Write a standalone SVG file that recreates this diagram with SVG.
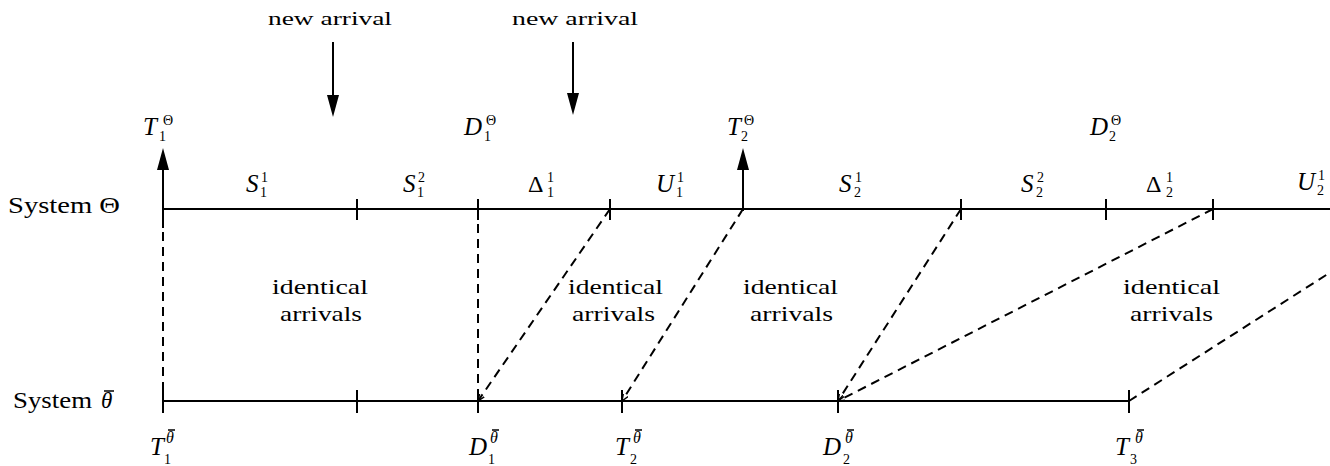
<svg xmlns="http://www.w3.org/2000/svg" width="1330" height="466" viewBox="0 0 1330 466">
<defs>
<style>
text{font-family:"Liberation Serif","Times New Roman",serif;fill:#000}
.lbl{font-size:18px}
.sys{font-size:23px}
.id{font-size:22px}
.m{font-size:25px;font-style:italic}
.up{font-size:24px}
.s{font-size:14px}
.so{font-size:16px;font-style:italic}
.bar{stroke:#000;stroke-width:1.5}
.axis{stroke:#000;stroke-width:2;fill:none}
.dash{stroke:#000;stroke-width:2;fill:none;stroke-dasharray:9 6}
.solid{stroke:#000;stroke-width:2;fill:none}
</style>
<marker id="sm" viewBox="0 0 10 10" refX="10" refY="5" markerWidth="7" markerHeight="7" orient="auto" markerUnits="userSpaceOnUse">
<path d="M0,1 L10,5 L0,9" fill="none" stroke="#000" stroke-width="2"/>
</marker>
</defs>
<rect width="1330" height="466" fill="#fff"/>

<g id="system-theta">
<text class="sys" x="8" y="213" textLength="112" lengthAdjust="spacingAndGlyphs">System Θ</text>
<line class="axis" x1="163" y1="209" x2="1330" y2="209"/>
<path class="axis" d="M357,199V220M478,199V220M610,199V220M961,199V220M1106,199V220M1213,199V220"/>
</g>

<g id="system-thetabar">
<text class="sys" x="13" y="408" textLength="79" lengthAdjust="spacingAndGlyphs">System</text>
<text class="sys" x="101" y="408" font-style="italic">θ</text>
<line class="bar" x1="104" y1="391" x2="114" y2="391"/>
<line class="axis" x1="163" y1="401" x2="1129" y2="401"/>
<path class="axis" d="M163,390V413M357,390V413M478,390V413M622,390V413M838,390V413M1129,390V413"/>
</g>

<g id="arrival-1">
<text class="lbl" x="268" y="25" textLength="124" lengthAdjust="spacingAndGlyphs">new arrival</text>
</g>
<g id="arrival-2">
<text class="lbl" x="512" y="25" textLength="126" lengthAdjust="spacingAndGlyphs">new arrival</text>
</g>

<g id="top-labels">
<text class="m" x="143" y="135">T</text><text class="s" x="163" y="125">Θ</text><text class="s" x="159" y="141">1</text>
<text class="m" x="464" y="135">D</text><text class="s" x="486" y="125">Θ</text><text class="s" x="484" y="141">1</text>
<text class="m" x="727" y="135">T</text><text class="s" x="744" y="125">Θ</text><text class="s" x="741" y="141">2</text>
<text class="m" x="1090" y="135">D</text><text class="s" x="1111" y="125">Θ</text><text class="s" x="1109" y="141">2</text>
</g>

<g id="interval-labels">
<text class="m" x="246" y="192">S</text><text class="s" x="261" y="182">1</text><text class="s" x="260" y="197">1</text>
<text class="m" x="403" y="192">S</text><text class="s" x="418" y="182">2</text><text class="s" x="417" y="197">1</text>
<text class="up" x="528" y="192">Δ</text><text class="s" x="547" y="182">1</text><text class="s" x="547" y="197">1</text>
<text class="m" x="656" y="192">U</text><text class="s" x="677" y="182">1</text><text class="s" x="676" y="197">1</text>
<text class="m" x="839" y="192">S</text><text class="s" x="855" y="182">1</text><text class="s" x="854" y="197">2</text>
<text class="m" x="1021" y="192">S</text><text class="s" x="1037" y="182">2</text><text class="s" x="1036" y="197">2</text>
<text class="up" x="1146" y="192">Δ</text><text class="s" x="1166" y="182">1</text><text class="s" x="1166" y="197">2</text>
<text class="m" x="1297" y="190">U</text><text class="s" x="1318" y="180">1</text><text class="s" x="1317" y="195">2</text>
</g>

<g id="bottom-labels">
<text class="m" x="150" y="455">T</text><text class="so" x="166" y="443">θ</text><line class="bar" x1="168" y1="430" x2="175" y2="430"/><text class="s" x="164" y="464">1</text>
<text class="m" x="469" y="455">D</text><text class="so" x="490" y="443">θ</text><line class="bar" x1="492" y1="430" x2="499" y2="430"/><text class="s" x="488" y="464">1</text>
<text class="m" x="615" y="455">T</text><text class="so" x="633" y="443">θ</text><line class="bar" x1="635" y1="430" x2="642" y2="430"/><text class="s" x="630" y="464">2</text>
<text class="m" x="823" y="455">D</text><text class="so" x="845" y="443">θ</text><line class="bar" x1="847" y1="430" x2="854" y2="430"/><text class="s" x="843" y="464">2</text>
<text class="m" x="1115" y="455">T</text><text class="so" x="1135" y="443">θ</text><line class="bar" x1="1137" y1="430" x2="1144" y2="430"/><text class="s" x="1130" y="464">3</text>
</g>

<g id="identical-1">
<text class="id" x="272" y="294" textLength="96" lengthAdjust="spacingAndGlyphs">identical</text>
<text class="id" x="280" y="321" textLength="82" lengthAdjust="spacingAndGlyphs">arrivals</text>
</g>
<g id="identical-2">
<text class="id" x="568" y="294" textLength="95" lengthAdjust="spacingAndGlyphs">identical</text>
<text class="id" x="572" y="321" textLength="83" lengthAdjust="spacingAndGlyphs">arrivals</text>
</g>
<g id="identical-3">
<text class="id" x="743" y="294" textLength="95" lengthAdjust="spacingAndGlyphs">identical</text>
<text class="id" x="750" y="321" textLength="83" lengthAdjust="spacingAndGlyphs">arrivals</text>
</g>
<g id="identical-4">
<text class="id" x="1123" y="294" textLength="97" lengthAdjust="spacingAndGlyphs">identical</text>
<text class="id" x="1130" y="321" textLength="83" lengthAdjust="spacingAndGlyphs">arrivals</text>
</g>

<g id="connectors">
<line class="solid" x1="333" y1="42" x2="333" y2="96"/>
<polygon points="327,95 339,95 333,117"/>
<line class="solid" x1="573" y1="42" x2="573" y2="94"/>
<polygon points="567,93 579,93 573,115"/>
<line class="solid" x1="163" y1="228" x2="163" y2="168"/>
<polygon points="157,170 169,170 163,148"/>
<line class="solid" x1="743" y1="211" x2="743" y2="168"/>
<polygon points="737,170 749,170 743,148"/>
<line class="dash" x1="163" y1="232" x2="163" y2="401"/>
<line class="dash" x1="478" y1="209" x2="478" y2="401"/>
<line class="dash" x1="610" y1="209" x2="478" y2="401" marker-end="url(#sm)"/>
<line class="dash" x1="743" y1="209" x2="622" y2="401" marker-end="url(#sm)"/>
<line class="dash" x1="961" y1="209" x2="838" y2="401" marker-end="url(#sm)"/>
<line class="dash" x1="1213" y1="209" x2="838" y2="401" marker-end="url(#sm)"/>
<line class="dash" x1="1129" y1="401" x2="1334" y2="270"/>
</g>
</svg>
